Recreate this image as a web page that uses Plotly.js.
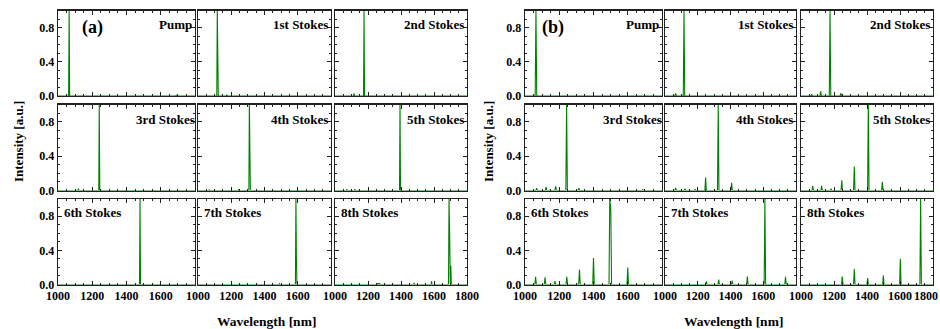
<!DOCTYPE html>
<html>
<head>
<meta charset="utf-8">
<script src="https://cdn.plot.ly/plotly-3.0.1.min.js"></script>
<style>html,body{margin:0;padding:0;background:#fff}#chart{width:940px;height:329px}</style>
</head>
<body>
<div id="chart"></div>
<script>
// ---------- DATA (peak wavelengths [nm] and normalized intensities) ----------
// Panel (a)
const a_labels = ["Pump","1st Stokes","2nd Stokes","3rd Stokes","4th Stokes","5th Stokes","6th Stokes","7th Stokes","8th Stokes"];
const a_pump_wl = [1065, 1690];             const a_pump_int = [1.0, 0.008];
const a_s1_wl = [1116, 1119, 1173];         const a_s1_int = [1.0, 0.12, 0.015];
const a_s2_wl = [1115, 1176];               const a_s2_int = [0.03, 1.0];
const a_s3_wl = [1119, 1241];               const a_s3_int = [0.02, 1.0];
const a_s4_wl = [1068, 1245, 1309, 1312];   const a_s4_int = [0.01, 0.01, 1.0, 0.39];
const a_s5_wl = [1071, 1121, 1394];         const a_s5_int = [0.015, 0.015, 1.0];
const a_s6_wl = [1400, 1479];               const a_s6_int = [0.01, 1.0];
const a_s7_wl = [1490, 1589, 1592];         const a_s7_int = [0.01, 1.0, 0.3];
const a_s8_wl = [1255, 1263, 1271, 1480, 1585, 1691, 1695, 1702];
const a_s8_int = [0.01, 0.015, 0.01, 0.02, 0.04, 1.0, 0.57, 0.22];
// Panel (b)
const b_labels = a_labels;
const b_pump_wl = [1064];                   const b_pump_int = [1.0];
const b_s1_wl = [1065, 1116];               const b_s1_int = [0.03, 1.0];
const b_s2_wl = [1065, 1119, 1176, 1242];   const b_s2_int = [0.02, 0.055, 1.0, 0.035];
const b_s3_wl = [1068, 1123, 1179, 1243, 1315, 1687]; const b_s3_int = [0.027, 0.043, 0.047, 1.0, 0.027, 0.01];
const b_s4_wl = [1065, 1122, 1183, 1248, 1325, 1407]; const b_s4_int = [0.03, 0.02, 0.015, 0.15, 1.0, 0.09];
const b_s5_wl = [1071, 1125, 1182, 1247, 1323, 1408, 1493]; const b_s5_int = [0.055, 0.055, 0.02, 0.12, 0.28, 1.0, 0.1];
const b_s6_wl = [1062, 1117, 1175, 1244, 1318, 1400, 1495, 1501, 1600, 1700];
const b_s6_int = [0.09, 0.085, 0.04, 0.09, 0.175, 0.31, 1.0, 0.88, 0.2, 0.005];
const b_s7_wl = [1252, 1328, 1410, 1503, 1610, 1736]; const b_s7_int = [0.037, 0.057, 0.045, 0.094, 1.0, 0.09];
const b_s8_wl = [1250, 1323, 1404, 1499, 1602, 1725]; const b_s8_int = [0.094, 0.18, 0.075, 0.105, 0.3, 1.0];

const x_ticks_inner = [1000, 1200, 1400, 1600];
const x_ticks_last = [1000, 1200, 1400, 1600, 1800];
const y_ticks = [0.0, 0.4, 0.8];
const y_ticktext = ["0.0", "0.4", "0.8"];

// ---------- BUILD ----------
const W = 940, H = 329;
const px = x => x / W, py = y => 1 - y / H;
const FONT = "Liberation Serif";

const aSpectra = [[a_pump_wl,a_pump_int],[a_s1_wl,a_s1_int],[a_s2_wl,a_s2_int],[a_s3_wl,a_s3_int],[a_s4_wl,a_s4_int],[a_s5_wl,a_s5_int],[a_s6_wl,a_s6_int],[a_s7_wl,a_s7_int],[a_s8_wl,a_s8_int]];
const bSpectra = [[b_pump_wl,b_pump_int],[b_s1_wl,b_s1_int],[b_s2_wl,b_s2_int],[b_s3_wl,b_s3_int],[b_s4_wl,b_s4_int],[b_s5_wl,b_s5_int],[b_s6_wl,b_s6_int],[b_s7_wl,b_s7_int],[b_s8_wl,b_s8_int]];

// line through baseline and each peak apex (peak half-base width is a drawing style)
function spectrumLine(wl, it, hw) {
  const xs = [1000], ys = [0];
  for (let i = 0; i < wl.length; i++) {
    if (i === 0 || wl[i] - wl[i-1] > 2*hw) { xs.push(wl[i]-hw); ys.push(0); }
    xs.push(wl[i]); ys.push(it[i]);
    if (i === wl.length-1 || wl[i+1] - wl[i] > 2*hw) { xs.push(wl[i]+hw); ys.push(0); }
  }
  xs.push(1800); ys.push(0);
  return {xs, ys};
}

const colsA = [[58,195],[198,331],[335,467]];
const colsB = [[525,662],[665,796],[801,933]];
const rows = [[10.5,96],[104.5,190.5],[199,284.5]];

const traces = [];
const layout = {
  width: W, height: H,
  margin: {l:0, r:0, t:0, b:0},
  paper_bgcolor: "#fff", plot_bgcolor: "#fff",
  showlegend: false,
  font: {family: FONT, size: 11, color: "#000"},
  annotations: []
};

let idx = 0;
function addPanel(spectra, cols, labels, hw) {
  for (let k = 0; k < 9; k++) {
    idx++;
    const r = Math.floor(k/3), c = k % 3;
    const sfx = idx === 1 ? "" : String(idx);
    const {xs, ys} = spectrumLine(spectra[k][0], spectra[k][1], hw);
    traces.push({x: xs, y: ys, type: "scatter", mode: "lines",
      line: {color: "#008000", width: 1.1}, xaxis: "x"+sfx, yaxis: "y"+sfx, hoverinfo: "skip"});
    const tv = c === 2 ? x_ticks_last : x_ticks_inner;
    layout["xaxis"+sfx] = {
      domain: [px(cols[c][0]), px(cols[c][1])], anchor: "y"+sfx, range: [1000, 1800],
      showgrid: false, zeroline: false, showline: true, linecolor: "#222", linewidth: 1.3, mirror: "allticks",
      ticks: "inside", ticklen: 4, tickcolor: "#222", tickvals: tv, ticktext: tv.map(String),
      minor: {dtick: 50, ticklen: 2, tickcolor: "#222", ticks: "inside"},
      showticklabels: r === 2, tickfont: {family: FONT, size: 12, weight: "bold", color: "#000"}
    };
    layout["yaxis"+sfx] = {
      domain: [py(rows[r][1]), py(rows[r][0])], anchor: "x"+sfx, range: [0, 1.0],
      showgrid: false, zeroline: false, showline: true, linecolor: "#222", linewidth: 1.3, mirror: "allticks",
      ticks: "inside", ticklen: 4, tickcolor: "#222", tickvals: y_ticks, ticktext: y_ticktext,
      minor: {dtick: 0.1, ticklen: 2, tickcolor: "#222", ticks: "inside"},
      showticklabels: c === 0, tickfont: {family: FONT, size: 12, weight: "bold", color: "#000"}
    };
    // subplot label
    const lab = labels[k];
    if (r < 2) {
      layout.annotations.push({xref: "paper", yref: "paper", x: px(cols[c][1] + (r===1 && c===0 ? 3 : 0) - 1), y: py(r===0 ? 24.5 : 119.5),
        xanchor: "right", yanchor: "middle", text: lab, showarrow: false,
        font: {family: FONT, size: 13, weight: "bold", color: "#000"}});
    } else {
      layout.annotations.push({xref: "paper", yref: "paper", x: px(cols[c][0] + 4), y: py(213),
        xanchor: "left", yanchor: "middle", text: lab, showarrow: false,
        font: {family: FONT, size: 13, weight: "bold", color: "#000"}});
    }
  }
}
addPanel(aSpectra, colsA, a_labels, 3);
addPanel(bSpectra, colsB, b_labels, 4.5);

// last tick label of panel (b): kept inside the page edge
layout.annotations.push({xref:"paper", yref:"paper", x: 1, y: py(296), xanchor:"right", yanchor:"middle",
  text: String(x_ticks_last[4]), showarrow:false, font:{family:FONT, size:12, weight:"bold", color:"#000"}});

// panel letters
layout.annotations.push({xref:"paper", yref:"paper", x: px(92), y: py(27), xanchor:"center", yanchor:"middle",
  text:"(a)", showarrow:false, font:{family:FONT, size:18, weight:"bold"}});
layout.annotations.push({xref:"paper", yref:"paper", x: px(553), y: py(27), xanchor:"center", yanchor:"middle",
  text:"(b)", showarrow:false, font:{family:FONT, size:18, weight:"bold"}});
// axis titles
[[18, 266], [488, 733]].forEach(([yx, xx]) => {
  layout.annotations.push({xref:"paper", yref:"paper", x: px(yx), y: py(142), xanchor:"center", yanchor:"middle",
    text:"Intensity [a.u.]", textangle:-90, showarrow:false, font:{family:FONT, size:13, weight:"bold"}});
  layout.annotations.push({xref:"paper", yref:"paper", x: px(xx), y: py(321), xanchor:"center", yanchor:"middle",
    text:"Wavelength [nm]", showarrow:false, font:{family:FONT, size:13.5, weight:"bold"}});
});

Plotly.newPlot("chart", traces, layout, {staticPlot: true, displayModeBar: false});
</script>
</body>
</html>
